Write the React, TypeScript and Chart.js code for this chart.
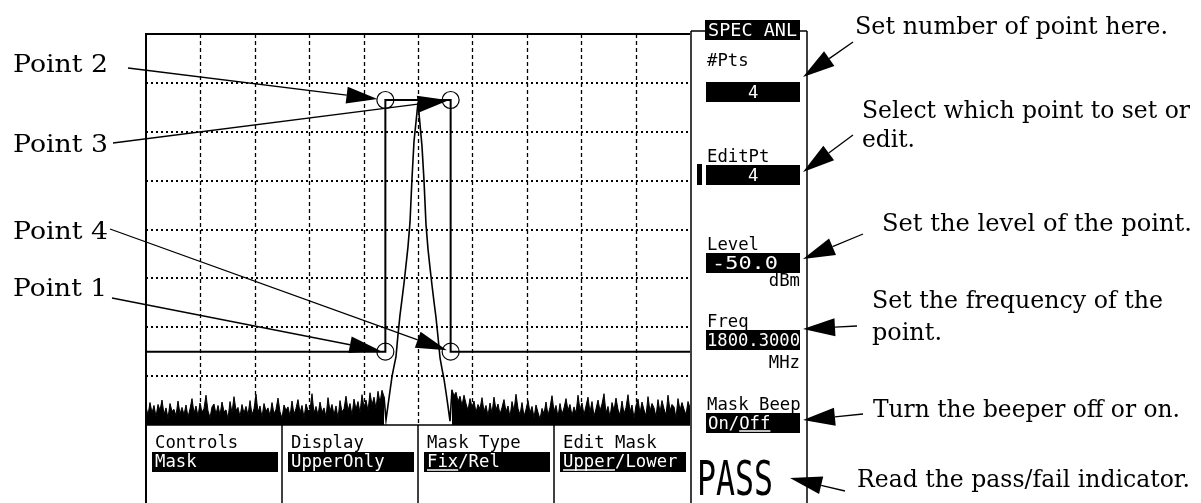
import React, { useEffect, useRef } from "react";
import { Chart, registerables } from "chart.js";

Chart.register(...registerables);

// ---- sweep / axes ----
const sweepStartMHz = 1797.5;
const sweepStopMHz = 1802.5;
const levelTopDbm = 15;
const levelBottomDbm = -65;
const freqGridMHz = [1798.0, 1798.5, 1799.0, 1799.5, 1800.0, 1800.5, 1801.0, 1801.5, 1802.0];
const levelGridDbm = [5, -5, -15, -25, -35, -45, -55];

// ---- trace (dBm) ----
const noiseLeftDbm = [
  -61.2, -63.0, -60.4, -62.5, -61.0, -63.3, -60.8, -62.0, -59.9, -62.8, -61.5, -63.6, -60.6, -62.2, -61.8, -63.1, -60.1, -62.7, -61.4, -62.9,
  -60.9, -63.4, -61.7, -59.6, -62.6, -61.1, -63.2, -60.5, -62.4, -61.6, -58.9, -62.1, -63.5, -61.3, -60.7, -62.8, -61.0, -63.0, -60.3, -62.3,
  -61.9, -63.7, -60.2, -62.5, -59.2, -62.0, -61.4, -63.3, -60.8, -62.6, -61.2, -63.0, -60.0, -62.9, -61.7, -58.7, -62.4, -61.1, -63.4, -60.6,
  -62.2, -61.5, -63.1, -60.4, -62.7, -61.8, -59.5, -62.3, -63.6, -60.9, -62.0, -61.3, -63.2, -60.1, -62.8, -61.6, -59.8, -62.5, -61.0, -63.5,
  -60.7, -62.1, -61.9, -58.6, -62.6, -61.2, -63.0, -60.3, -62.4, -61.5, -63.3, -59.4, -62.2, -60.8, -62.9, -61.1, -63.6, -60.0, -62.3, -61.7,
  -59.1, -62.0, -60.6, -63.0, -59.7, -61.8, -60.2, -62.5, -58.8, -61.4, -59.9, -62.1, -58.4, -60.9, -59.3, -61.6, -58.1, -60.4, -57.9, -59.2,
];
const peakDbm = [
  -64.0, -61.0, -58.0, -55.1, -53.0, -51.0, -46.5, -42.5, -39.3, -36.0, -32.3, -28.5, -23.5, -14.5, -7.0, -3.0,
  1.0,
  -3.5, -8.0, -15.0, -24.0, -29.0, -32.8, -36.4, -39.8, -43.0, -47.0, -51.2, -53.5, -55.6, -58.3, -61.2, -64.2,
];
const noiseRightDbm = [
  -57.8, -59.0, -58.3, -60.2, -59.1, -61.0, -58.9, -60.6, -62.0, -59.6, -61.3, -60.1, -62.4, -60.8, -61.7, -59.4, -62.2, -61.0, -63.1, -60.5,
  -62.6, -59.3, -61.9, -60.7, -62.8, -61.4, -59.8, -62.3, -61.1, -63.4, -60.2, -62.1, -58.7, -61.6, -62.9, -60.4, -63.2, -61.8, -60.0, -62.5,
  -61.2, -63.5, -60.9, -62.4, -63.8, -61.6, -62.7, -60.3, -63.0, -61.4, -59.0, -62.2, -61.0, -63.3, -60.6, -62.8, -61.5, -59.6, -62.0, -60.8,
  -63.1, -61.3, -62.6, -58.9, -61.9, -60.5, -62.9, -61.1, -59.3, -62.4, -60.2, -63.2, -61.7, -59.9, -62.1, -60.7, -58.6, -62.5, -61.2, -63.4,
  -60.4, -62.0, -59.5, -61.8, -63.0, -60.1, -62.7, -61.4, -58.8, -62.3, -60.9, -63.6, -61.0, -59.7, -62.6, -60.3, -61.9, -63.1, -59.2, -62.2,
  -60.6, -61.5, -63.3, -59.8, -62.4, -60.0, -61.7, -63.0, -58.9, -62.1, -60.8, -61.3, -63.5, -59.6, -62.0, -60.4, -61.8, -62.9, -60.2, -61.5,
];

// ---- limit mask ----
const maskFreqMHz = [1797.5, 1799.7, 1799.7, 1800.3, 1800.3, 1802.5];
const maskLevelDbm = [-50, -50, 1.5, 1.5, -50, -50];

// ---- mask points ----
const pointNames = ["Point 1", "Point 2", "Point 3", "Point 4"];
const pointFreqMHz = [1799.7, 1799.7, 1800.3, 1800.3];
const pointLevelDbm = [-50, 1.5, 1.5, -50];

// ---- softkeys ----
const bottomKeyTitles = ["Controls", "Display", "Mask Type", "Edit Mask"];
const bottomKeyValues = ["Mask", "UpperOnly", "Fix/Rel", "Upper/Lower"];
const bottomKeyUnderline = ["", "", "Fix", "Upper"];
const sideTitle = "SPEC ANL";
const sideLabels = ["#Pts", "EditPt", "Level", "Freq", "Mask Beep"];
const sideValues = ["4", "4", "-50.0", "1800.3000", "On/Off"];
const sideUnits = ["", "", "dBm", "MHz", ""];
const sideUnderline = ["", "", "", "", "Off"];
const passFail = "PASS";

// ---- callouts ----
const noteLines = [
  "Set number of point here.",
  "Select which point to set or",
  "edit.",
  "Set the level of the point.",
  "Set the frequency of the",
  "point.",
  "Turn the beeper off or on.",
  "Read the pass/fail indicator.",
];

const SERIF = '"DejaVu Serif", serif';
const MONO = '"DejaVu Sans Mono", monospace';
const MONO_FONT = `18px ${MONO}`;
const MONO_SX = 0.96;

type TextOpts = { width?: number; sx?: number; color?: string; align?: "left" | "right" };

function drawText(ctx: CanvasRenderingContext2D, text: string, x: number, y: number, font: string, opts: TextOpts = {}) {
  ctx.save();
  ctx.font = font;
  ctx.fillStyle = opts.color || "#000";
  ctx.textBaseline = "alphabetic";
  ctx.textAlign = "left";
  const w = ctx.measureText(text).width;
  const sx = opts.width ? opts.width / w : opts.sx || 1;
  const dw = w * sx;
  const x0 = opts.align === "right" ? x - dw : x;
  ctx.translate(x0, y);
  ctx.scale(sx, 1);
  ctx.fillText(text, 0, 0);
  ctx.restore();
  return sx;
}

function arrow(ctx: CanvasRenderingContext2D, x0: number, y0: number, x1: number, y1: number, len = 31, half = 8.5) {
  const dx = x1 - x0;
  const dy = y1 - y0;
  const d = Math.hypot(dx, dy);
  const ux = dx / d;
  const uy = dy / d;
  const bx = x1 - ux * len;
  const by = y1 - uy * len;
  ctx.beginPath();
  ctx.moveTo(x0, y0);
  ctx.lineTo(bx, by);
  ctx.stroke();
  ctx.beginPath();
  ctx.moveTo(x1, y1);
  ctx.lineTo(bx - uy * half, by + ux * half);
  ctx.lineTo(bx + uy * half, by - ux * half);
  ctx.closePath();
  ctx.fill();
}

function underline(ctx: CanvasRenderingContext2D, text: string, part: string, x: number, y: number, font: string, sx: number) {
  if (!part) return;
  const idx = text.indexOf(part);
  if (idx < 0) return;
  ctx.save();
  ctx.font = font;
  const a = ctx.measureText(text.slice(0, idx)).width * sx;
  const b = ctx.measureText(part).width * sx;
  ctx.strokeStyle = "#fff";
  ctx.lineWidth = 1.5;
  ctx.beginPath();
  ctx.moveTo(x + a, y);
  ctx.lineTo(x + a + b, y);
  ctx.stroke();
  ctx.restore();
}

const screenPlugin = {
  id: "screen",
  beforeDraw(chart: any) {
    const ctx = chart.ctx as CanvasRenderingContext2D;
    ctx.save();
    ctx.fillStyle = "#fff";
    ctx.fillRect(0, 0, chart.width, chart.height);
    ctx.restore();
  },
  beforeDatasetsDraw(chart: any) {
    const ctx = chart.ctx as CanvasRenderingContext2D;
    const { left, right, top, bottom } = chart.chartArea;
    const xs = chart.scales.x;
    const ys = chart.scales.y;
    ctx.save();
    ctx.strokeStyle = "#000";
    ctx.lineWidth = 1.3;
    ctx.setLineDash([4, 3]);
    for (const f of freqGridMHz) {
      const x = Math.round(xs.getPixelForValue(f)) + 0.5;
      ctx.beginPath();
      ctx.moveTo(x, top);
      ctx.lineTo(x, bottom);
      ctx.stroke();
    }
    ctx.lineWidth = 2;
    ctx.setLineDash([2, 3]);
    for (const l of levelGridDbm) {
      const y = Math.round(ys.getPixelForValue(l));
      ctx.beginPath();
      ctx.moveTo(left, y);
      ctx.lineTo(right, y);
      ctx.stroke();
    }
    ctx.restore();
  },
  afterDatasetsDraw(chart: any) {
    const ctx = chart.ctx as CanvasRenderingContext2D;
    const { left, right, top, bottom } = chart.chartArea;
    const xs = chart.scales.x;
    const ys = chart.scales.y;
    const H = chart.height;
    ctx.save();
    ctx.strokeStyle = "#000";
    ctx.fillStyle = "#000";
    ctx.setLineDash([]);

    // frame of the graticule and bottom softkeys
    ctx.lineWidth = 2;
    ctx.beginPath();
    ctx.moveTo(left, H);
    ctx.lineTo(left, top);
    ctx.lineTo(right, top);
    ctx.stroke();
    ctx.lineWidth = 1.5;
    ctx.beginPath();
    ctx.moveTo(left, bottom);
    ctx.lineTo(right, bottom);
    ctx.stroke();
    const panelL = right + 1;
    const panelR = 807;
    ctx.beginPath();
    ctx.moveTo(panelL, 31);
    ctx.lineTo(panelL, H);
    ctx.moveTo(panelR, 31);
    ctx.lineTo(panelR, H);
    ctx.moveTo(panelL, 31);
    ctx.lineTo(705, 31);
    ctx.moveTo(800, 31);
    ctx.lineTo(panelR, 31);
    ctx.stroke();

    // bottom softkeys
    const keyW = (right - left) / bottomKeyTitles.length;
    bottomKeyTitles.forEach((title, k) => {
      const x0 = left + k * keyW;
      if (k > 0) {
        ctx.lineWidth = 1.5;
        ctx.beginPath();
        ctx.moveTo(x0, bottom);
        ctx.lineTo(x0, H);
        ctx.stroke();
      }
      drawText(ctx, title, x0 + 9, 448, MONO_FONT, { sx: MONO_SX });
      ctx.fillStyle = "#000";
      ctx.fillRect(x0 + 6, 452, 126, 20);
      drawText(ctx, bottomKeyValues[k], x0 + 9, 467, MONO_FONT, { sx: MONO_SX, color: "#fff" });
      underline(ctx, bottomKeyValues[k], bottomKeyUnderline[k], x0 + 9, 470, MONO_FONT, MONO_SX);
    });

    // side softkeys
    ctx.fillStyle = "#000";
    ctx.fillRect(705, 20, 95, 20);
    drawText(ctx, sideTitle, 708, 36, MONO_FONT, { width: 89, color: "#fff" });
    const sideLayout = [
      { labelY: 66, boxY: 82, valueX: 748, valueW: 0, unitY: 0 },
      { labelY: 162, boxY: 165, valueX: 748, valueW: 0, unitY: 0 },
      { labelY: 250, boxY: 253, valueX: 712, valueW: 66, unitY: 286 },
      { labelY: 327, boxY: 330, valueX: 707, valueW: 93, unitY: 368 },
      { labelY: 410, boxY: 413, valueX: 708, valueW: 0, unitY: 0 },
    ];
    sideLabels.forEach((lab, k) => {
      const L = sideLayout[k];
      drawText(ctx, lab, 707, L.labelY, MONO_FONT, { sx: MONO_SX });
      ctx.fillStyle = "#000";
      ctx.fillRect(706, L.boxY, 94, 20);
      const sx = drawText(ctx, sideValues[k], L.valueX, L.boxY + 16, MONO_FONT, {
        width: L.valueW || undefined,
        sx: MONO_SX,
        color: "#fff",
      });
      underline(ctx, sideValues[k], sideUnderline[k], L.valueX, L.boxY + 18, MONO_FONT, sx);
      if (sideUnits[k]) drawText(ctx, sideUnits[k], 800, L.unitY, MONO_FONT, { sx: MONO_SX, align: "right" });
    });
    ctx.fillStyle = "#000";
    ctx.fillRect(697, 164, 5, 21);
    drawText(ctx, passFail, 697, 495, `48px ${MONO}`, { width: 76 });

    // left callouts to mask points
    const serif = `25px ${SERIF}`;
    const labelLayout = [
      { x: 13, y: 296, w: 94, tail: [112, 298], inset: 5 },
      { x: 13, y: 72, w: 95, tail: [128, 68], inset: 8 },
      { x: 13, y: 152, w: 95, tail: [113, 143], inset: 2 },
      { x: 13, y: 239, w: 95, tail: [110, 229], inset: 4 },
    ];
    ctx.strokeStyle = "#000";
    ctx.lineWidth = 1.3;
    pointNames.forEach((name, k) => {
      const L = labelLayout[k];
      drawText(ctx, name, L.x, L.y, serif, { width: L.w });
      const px = xs.getPixelForValue(pointFreqMHz[k]);
      const py = ys.getPixelForValue(pointLevelDbm[k]);
      const [tx, ty] = L.tail;
      const d = Math.hypot(px - tx, py - ty);
      const ex = px - ((px - tx) / d) * L.inset;
      const ey = py - ((py - ty) / d) * L.inset;
      ctx.fillStyle = "#000";
      arrow(ctx, tx, ty, ex, ey);
    });

    // right callouts
    const noteLayout = [
      { x: 855, y: 34, w: 313 },
      { x: 862, y: 118, w: 328 },
      { x: 862, y: 147, w: 53 },
      { x: 882, y: 231, w: 310 },
      { x: 872, y: 308, w: 291 },
      { x: 872, y: 340, w: 70 },
      { x: 873, y: 417, w: 307 },
      { x: 857, y: 487, w: 333 },
    ];
    noteLines.forEach((t, k) => {
      const L = noteLayout[k];
      drawText(ctx, t, L.x, L.y, serif, { width: L.w });
    });
    const rightArrows = [
      [853, 42, 803, 77],
      [853, 135, 803, 172],
      [863, 234, 803, 259],
      [857, 326, 803, 329],
      [863, 414, 803, 420],
      [845, 491, 790, 478],
    ];
    ctx.fillStyle = "#000";
    for (const [a, b, c, d] of rightArrows) arrow(ctx, a, b, c, d, 32, 9);
    ctx.restore();
  },
};

export default function App() {
  const ref = useRef<HTMLCanvasElement | null>(null);
  useEffect(() => {
    if (!ref.current) return;
    const levels = [...noiseLeftDbm, ...peakDbm, ...noiseRightDbm];
    const step = (sweepStopMHz - sweepStartMHz) / (levels.length - 1);
    const trace = levels.map((y, i) => ({ x: sweepStartMHz + i * step, y }));
    const nL = noiseLeftDbm.length;
    const nP = peakDbm.length;
    const mask = maskFreqMHz.map((x, i) => ({ x, y: maskLevelDbm[i] }));
    const pts = pointFreqMHz.map((x, i) => ({ x, y: pointLevelDbm[i] }));
    const chart = new Chart(ref.current, {
      type: "line",
      data: {
        datasets: [
          {
            data: trace.slice(0, nL),
            fill: "start",
            backgroundColor: "#000",
            borderColor: "#000",
            borderWidth: 1,
            pointRadius: 0,
          },
          {
            data: trace.slice(nL + nP),
            fill: "start",
            backgroundColor: "#000",
            borderColor: "#000",
            borderWidth: 1,
            pointRadius: 0,
          },
          {
            data: trace.slice(nL - 1, nL + nP + 1),
            fill: false,
            borderColor: "#000",
            borderWidth: 1.6,
            pointRadius: 0,
          },
          {
            data: mask,
            fill: false,
            borderColor: "#000",
            borderWidth: 2,
            pointRadius: 0,
          },
          {
            data: pts,
            showLine: false,
            fill: false,
            pointRadius: 8.5,
            pointStyle: "circle",
            pointBorderWidth: 1.2,
            pointBorderColor: "#000",
            pointBackgroundColor: "rgba(0,0,0,0)",
          },
        ] as any,
      },
      options: {
        responsive: false,
        devicePixelRatio: 1,
        animation: false,
        events: [],
        layout: { padding: { left: 146, right: 511, top: 34, bottom: 78 } },
        scales: {
          x: { type: "linear", min: sweepStartMHz, max: sweepStopMHz, display: false },
          y: { type: "linear", min: levelBottomDbm, max: levelTopDbm, display: false },
        },
        plugins: { legend: { display: false }, tooltip: { enabled: false } },
        elements: { line: { tension: 0 } },
      },
      plugins: [screenPlugin],
    });
    return () => chart.destroy();
  }, []);
  return (
    <div style={{ position: "absolute", left: 0, top: 0, width: 1201, height: 503, background: "#fff" }}>
      <canvas ref={ref} width={1201} height={503} style={{ display: "block" }} />
    </div>
  );
}
